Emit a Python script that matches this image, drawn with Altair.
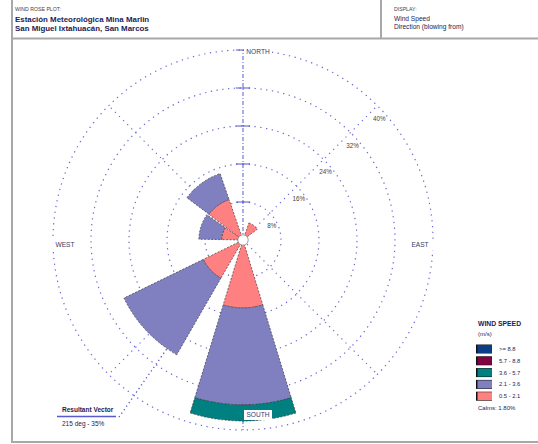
import math
import altair as alt
import pandas as pd

# ---- wind frequencies (%) per direction sector, one list per speed class (m/s) ----
sector_bearing = [36, 180, 227, 288, 324]
freq_0p5_2p1 = [3.8, 14.3, 9.3, 4.5, 9.0]
freq_2p1_3p6 = [0.0, 20.4, 18.6, 4.8, 5.8]
freq_3p6_5p7 = [0.0, 3.4, 0.0, 0.0, 0.0]
freq_5p7_8p8 = [0.0, 0.0, 0.0, 0.0, 0.0]
freq_ge_8p8 = [0.0, 0.0, 0.0, 0.0, 0.0]

speed_classes = ["0.5 - 2.1", "2.1 - 3.6", "3.6 - 5.7", "5.7 - 8.8", ">= 8.8"]
class_colors = ["#ff8080", "#8080c0", "#008080", "#800040", "#0b3c8a"]

ring_pcts = [8, 16, 24, 32, 40]
calms_pct = 1.80
resultant_deg = 215
resultant_pct = 35

# ---- layout ----
W, H = 538, 444
CX, CY = 243, 240          # rose centre (px)
R_OUT = 190                # radius of the outermost ring (px)
RING_MAX = 40              # percent at the outermost ring
PX = R_OUT / RING_MAX
HALF = 17                  # half width of a petal (deg)
FONT = "Liberation Sans"
GRID = "#4f4fd0"
TXT = "#1c1c55"

xs = alt.Scale(domain=[-CX / PX, (W - CX) / PX], range=[0, W], nice=False, zero=False)
ys = alt.Scale(domain=[-(H - CY) / PX, CY / PX], range=[H, 0], nice=False, zero=False)
theta_s = alt.Scale(domain=[0, 360], range=[0, 2 * math.pi])
rad_s = alt.Scale(type="linear", domain=[0, RING_MAX], range=[0, R_OUT], zero=True, nice=False)

one = pd.DataFrame({"k": [0]})

# petals: stacked speed classes per sector
class_lists = [freq_0p5_2p1, freq_2p1_3p6, freq_3p6_5p7, freq_5p7_8p8, freq_ge_8p8]
rows = []
for i, b in enumerate(sector_bearing):
    base = 0.0
    for cls, freqs in zip(speed_classes, class_lists):
        f = freqs[i]
        if f > 0:
            rows.append({"bearing": b, "speed": cls, "r0": base, "r1": base + f})
            base += f
petal_df = pd.DataFrame(rows)

rings = alt.Chart(pd.DataFrame({"pct": ring_pcts})).transform_calculate(
    t0="0", t1="360"
).mark_arc(x=CX, y=CY, fillOpacity=0, stroke=GRID, strokeWidth=1.2,
           strokeDash=[1.3, 4.5], strokeOpacity=0.85).encode(
    theta=alt.Theta("t0:Q", scale=theta_s, stack=None),
    theta2="t1:Q",
    radius=alt.Radius("pct:Q", scale=rad_s),
)


def spokes(bearings, length, dash, width=1.1, opacity=0.85):
    return alt.Chart(pd.DataFrame({"b": bearings})).transform_calculate(
        x0="0", y0="0",
        x1=f"{length}*sin(datum.b*PI/180)",
        y1=f"{length}*cos(datum.b*PI/180)",
    ).mark_rule(color=GRID, strokeWidth=width, strokeDash=dash, opacity=opacity).encode(
        x=alt.X("x0:Q", scale=xs, axis=None),
        y=alt.Y("y0:Q", scale=ys, axis=None),
        x2="x1:Q", y2="y1:Q",
    )


ns_axis = spokes([0, 180], RING_MAX, [4, 2, 1, 2])
diag_axes = spokes([45, 135, 225, 315], RING_MAX, [1.3, 4.5])
resultant_line = spokes([resultant_deg], 46, [1.3, 3.0], width=1.3, opacity=0.95)

ticks = alt.Chart(pd.DataFrame({"pct": ring_pcts})).transform_calculate(
    a="-1.5", b="1.5"
).mark_rule(color=GRID, strokeWidth=1.2, opacity=0.8).encode(
    x=alt.X("a:Q", scale=xs, axis=None), x2="b:Q",
    y=alt.Y("pct:Q", scale=ys, axis=None),
)

petals = alt.Chart(petal_df).transform_calculate(
    t0=f"datum.bearing - {HALF}", t1=f"datum.bearing + {HALF}"
).mark_arc(x=CX, y=CY, stroke="#2a2a2a", strokeWidth=0.6, strokeDash=[2, 1.5]).encode(
    theta=alt.Theta("t0:Q", scale=theta_s, stack=None),
    theta2="t1:Q",
    radius=alt.Radius("r1:Q", scale=rad_s),
    radius2="r0:Q",
    color=alt.Color("speed:N", scale=alt.Scale(domain=speed_classes, range=class_colors), legend=None),
)

hole = alt.Chart(one).transform_calculate(t0="0", t1="360", r="1.1").mark_arc(
    x=CX, y=CY, fill="white", stroke="#777777", strokeWidth=0.7
).encode(
    theta=alt.Theta("t0:Q", scale=theta_s, stack=None), theta2="t1:Q",
    radius=alt.Radius("r:Q", scale=rad_s),
)

ring_labels = alt.Chart(pd.DataFrame({"pct": ring_pcts})).transform_calculate(
    lx="datum.pct*sin(PI/4)", ly="datum.pct*cos(PI/4)", lab="datum.pct + '%'"
).mark_text(font=FONT, fontSize=6.3, color="#444444", dy=13, dx=2).encode(
    x=alt.X("lx:Q", scale=xs, axis=None),
    y=alt.Y("ly:Q", scale=ys, axis=None),
    text="lab:N",
)


def txt(s, x, y, size, align="left", weight="normal", color=TXT):
    return alt.Chart(one).mark_text(
        text=s, align=align, baseline="middle", font=FONT, fontSize=size,
        fontWeight=weight, color=color,
    ).encode(x=alt.value(x), y=alt.value(y))


def box(x1, y1, x2, y2, color):
    return alt.Chart(one).mark_rect(color=color).encode(
        x=alt.value(x1), x2=alt.value(x2), y=alt.value(y1), y2=alt.value(y2))


def hline(x1, x2, y, color, width):
    return alt.Chart(one).mark_rule(color=color, strokeWidth=width).encode(
        x=alt.value(x1), x2=alt.value(x2), y=alt.value(y))


def vline(x, y1, y2, color, width):
    return alt.Chart(one).mark_rule(color=color, strokeWidth=width).encode(
        x=alt.value(x), y=alt.value(y1), y2=alt.value(y2))


compass = []
for name, x, y in [("NORTH", 258, 52), ("SOUTH", 258, 415), ("WEST", 65, 245), ("EAST", 420, 245)]:
    compass.append(box(x - 14, y - 5, x + 14, y + 5, "white"))
    compass.append(txt(name, x, y, 6.6, align="center", color="#3a3a6a"))

# legend
legend = [txt("WIND SPEED", 478, 324, 6.8, weight="bold"), txt("(m/s)", 478, 334, 6)]
for i, (lab, col) in enumerate(zip(reversed(speed_classes), reversed(class_colors))):
    yc = 349 + i * 11.8
    legend.append(box(476, yc - 4.5, 492, yc + 4.5, "#111111"))
    legend.append(box(477.5, yc - 4, 492, yc + 4, col))
    legend.append(txt(lab, 499, yc, 5.8))
legend.append(txt(f"Calms: {calms_pct:.2f}%", 478, 408, 6))

# resultant vector note
resultant = [
    txt("Resultant Vector", 62, 410, 6.5, weight="bold"),
    hline(57, 116, 416.5, "#5a5ad0", 1.6),
    txt(f"{resultant_deg} deg - {resultant_pct}%", 62, 424, 6.5),
]

# header and frame
header = [
    txt("WIND ROSE PLOT:", 15, 9, 5.2, color="#444444"),
    txt("Estación Meteorológica Mina Marlin", 15, 19.5, 7.9, weight="bold"),
    txt("San Miguel Ixtahuacán, San Marcos", 15, 29, 7.9, weight="bold"),
    txt("DISPLAY:", 394, 9, 5.2, color="#444444"),
    txt("Wind Speed", 394, 19, 6.6),
    txt("Direction (blowing from)", 394, 27, 6.6),
]
FRAME = "#a8a8a8"
frame = [
    vline(12, 0, 443, FRAME, 2),
    hline(12, W, 38.5, FRAME, 2),
    vline(381, 0, 38, FRAME, 2),
    hline(12, W, 442, FRAME, 2),
]

chart = alt.layer(
    rings, diag_axes, ns_axis, ticks, resultant_line, petals, hole, ring_labels,
    *compass, *legend, *resultant, *header, *frame,
).properties(
    width=W, height=H, padding=0, autosize=alt.AutoSizeParams(type="none"),
    background="white",
).configure_view(stroke=None)

chart.save("out.html", embed_options={"renderer": "svg", "actions": False})
